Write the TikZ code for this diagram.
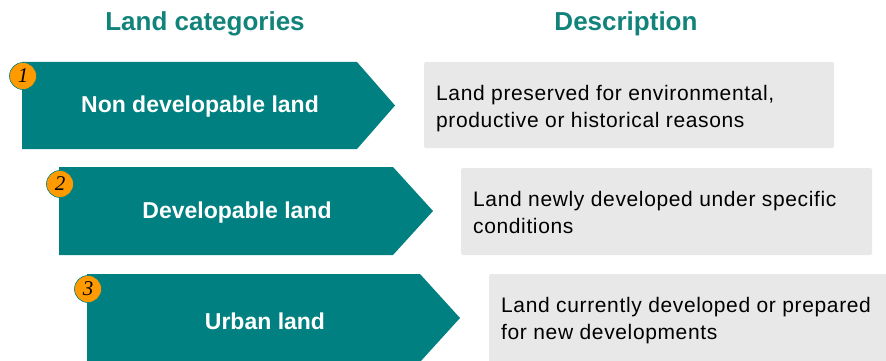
\documentclass[tikz,border=0pt]{standalone}
\usepackage{fontspec}
\setmainfont{Liberation Sans}
\newfontfamily\numfont{Liberation Serif}
\newfontfamily\descfont[LetterSpace=3]{Liberation Sans}
\definecolor{teal1}{HTML}{008080}
\definecolor{headc}{HTML}{11837A}
\definecolor{boxg}{HTML}{E8E8E8}
\definecolor{orng}{HTML}{FF9A00}
\tikzset{
  arrowshape/.style={fill=teal1, draw=none},
  arrowtext/.style={text=white, font=\fontsize{23}{27}\selectfont\bfseries, inner sep=0pt},
  descbox/.style={fill=boxg, draw=none, rounded corners=1.5pt},
  desctext/.style={anchor=north west, align=left, inner sep=0pt, font=\descfont\fontsize{21}{27}\selectfont, text=black},
  numcircle/.style={circle, fill=orng, draw=teal1, line width=0.6pt, minimum size=27pt, inner sep=0pt, font=\numfont\itshape\fontsize{21}{21}\selectfont},
  header/.style={text=headc, font=\fontsize{26}{30}\selectfont\bfseries, inner sep=0pt}
}
\begin{document}
\begin{tikzpicture}[x=1pt,y=-1pt]
\useasboundingbox (0,0) rectangle (886,361);
% headers
\node[header] (h1) at (205,24) {Land categories};
\node[header] (h2) at (626,24) {Description};
% arrows
\fill[arrowshape] (22,62) -- (357,62) -- (395,105.5) -- (357,149) -- (22,149) -- cycle;
\fill[arrowshape] (59,167) -- (393,167) -- (433,211) -- (393,255) -- (59,255) -- cycle;
\fill[arrowshape] (87,274) -- (420,274) -- (460,318) -- (420,362) -- (87,362) -- cycle;
\node[arrowtext] (a1) at (200,107) {Non developable land};
\node[arrowtext] (a2) at (237,213) {Developable land};
\node[arrowtext] (a3) at (265,321) {Urban land};
% number circles
\node[numcircle] (n1) at (23,76) {1};
\node[numcircle] (n2) at (60,184) {2};
\node[numcircle] (n3) at (88,289) {3};
% description boxes
\fill[descbox] (424,62) rectangle (834,148);
\fill[descbox] (461,168) rectangle (872,255);
\fill[descbox] (489,274) rectangle (892,367);
\node[desctext] (d1) at (436,85) {Land preserved for environmental,\\productive or historical reasons};
\node[desctext] (d2) at (473,191) {Land newly developed under specific\\conditions};
\node[desctext] (d3) at (501,297) {Land currently developed or prepared\\for new developments};
\end{tikzpicture}
\end{document}
